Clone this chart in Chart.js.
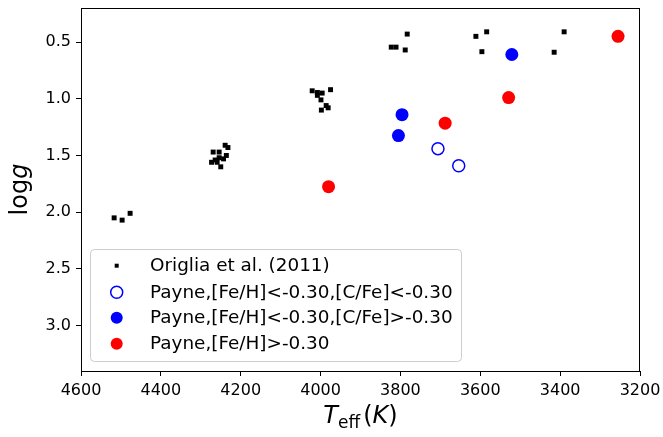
<!DOCTYPE html>
<html>
<head>
<meta charset="utf-8">
<script src="https://cdn.jsdelivr.net/npm/chart.js@4/dist/chart.umd.min.js"></script>
<style>
  html, body { margin: 0; padding: 0; background: #fff; }
  #wrap { width: 663px; height: 437px; }
</style>
</head>
<body>
<div id="wrap"><canvas id="myChart" width="663" height="437"></canvas></div>
<script>
// values
const origliaTeff = [4517, 4497, 4477,
    4269, 4254, 4239, 4232, 4236, 4243, 4254, 4264, 4273, 4259, 4250,
    4021, 4008, 3996, 3975, 4008, 3999, 3986, 3981, 3998,
    3823, 3811, 3788, 3783,
    3611, 3584, 3596, 3415, 3390];
const origliaLogg = [2.05, 2.07, 2.01,
    1.47, 1.47, 1.41, 1.43, 1.50, 1.53, 1.52, 1.54, 1.56, 1.56, 1.60,
    0.93, 0.945, 0.95, 0.92, 0.97, 1.01, 1.06, 1.08, 1.10,
    0.545, 0.545, 0.57, 0.43,
    0.45, 0.41, 0.585, 0.59, 0.41];

const lowCTeff = [3706, 3654];
const lowCLogg = [1.44, 1.59];

const highCTeff = [3521, 3796, 3805];
const highCLogg = [0.61, 1.14, 1.325];

const metalRichTeff = [3255, 3529, 3688, 3980];
const metalRichLogg = [0.45, 0.99, 1.215, 1.775];

const xTicks = [4600, 4400, 4200, 4000, 3800, 3600, 3400, 3200];
const yTicks = [0.5, 1.0, 1.5, 2.0, 2.5, 3.0];

const labels = ['Origlia et al. (2011)',
    'Payne,[Fe/H]<-0.30,[C/Fe]<-0.30',
    'Payne,[Fe/H]<-0.30,[C/Fe]>-0.30',
    'Payne,[Fe/H]>-0.30'];

function pts(xs, ys) {
    return xs.map((x, i) => ({ x: x, y: ys[i] }));
}

const FONT = '"DejaVu Sans", sans-serif';

// frame, axis titles and matplotlib-like legend
const mplExtras = {
    id: 'mplExtras',
    afterDraw: (chart) => {
        const { ctx, chartArea } = chart;
        ctx.save();
        ctx.strokeStyle = '#000';
        ctx.lineWidth = 1;
        ctx.strokeRect(chartArea.left + 0.5, chartArea.top + 0.5,
            chartArea.right - chartArea.left - 1, chartArea.bottom - chartArea.top);

        // x title: T_eff (K)
        ctx.fillStyle = '#000';
        ctx.textBaseline = 'alphabetic';
        const cx = (chartArea.left + chartArea.right) / 2;
        const by = 423;
        const big = 24, small = 17;
        ctx.font = 'italic ' + big + 'px ' + FONT;
        const wT = ctx.measureText('T').width;
        ctx.font = small + 'px ' + FONT;
        const wSub = ctx.measureText('eff').width;
        ctx.font = big + 'px ' + FONT;
        const wPo = ctx.measureText('(').width + 3;
        const wPc = ctx.measureText(')').width;
        ctx.font = 'italic ' + big + 'px ' + FONT;
        const wK = ctx.measureText('K').width;
        let x0 = cx - (wT + wSub + wPo + wK + wPc) / 2;
        ctx.textAlign = 'left';
        ctx.font = 'italic ' + big + 'px ' + FONT;
        ctx.fillText('T', x0, by); x0 += wT;
        ctx.font = small + 'px ' + FONT;
        ctx.fillText('eff', x0, by + 5); x0 += wSub + 3;
        ctx.font = big + 'px ' + FONT;
        ctx.fillText('(', x0, by); x0 += wPo - 3;
        ctx.font = 'italic ' + big + 'px ' + FONT;
        ctx.fillText('K', x0, by); x0 += wK;
        ctx.font = big + 'px ' + FONT;
        ctx.fillText(')', x0, by);

        // y title: logg
        ctx.save();
        ctx.translate(27, (chartArea.top + chartArea.bottom) / 2);
        ctx.rotate(-Math.PI / 2);
        ctx.font = big + 'px ' + FONT;
        const wl = ctx.measureText('log').width;
        ctx.font = 'italic ' + big + 'px ' + FONT;
        const wg = ctx.measureText('g').width;
        let yx = -(wl + wg) / 2;
        ctx.font = big + 'px ' + FONT;
        ctx.fillText('log', yx, 0);
        ctx.font = 'italic ' + big + 'px ' + FONT;
        ctx.fillText('g', yx + wl, 0);
        ctx.restore();

        // legend
        const lx = 90.5, ly = 249.5, lw = 371, lh = 112, r = 4;
        ctx.beginPath();
        ctx.moveTo(lx + r, ly);
        ctx.arcTo(lx + lw, ly, lx + lw, ly + lh, r);
        ctx.arcTo(lx + lw, ly + lh, lx, ly + lh, r);
        ctx.arcTo(lx, ly + lh, lx, ly, r);
        ctx.arcTo(lx, ly, lx + lw, ly, r);
        ctx.closePath();
        ctx.fillStyle = 'rgba(255,255,255,0.8)';
        ctx.fill();
        ctx.strokeStyle = '#cccccc';
        ctx.lineWidth = 1;
        ctx.stroke();

        const rows = [265.7, 292.3, 317.7, 343.7];
        const mx = 116.7;
        ctx.font = '18.4px ' + FONT;
        ctx.textAlign = 'left';
        ctx.textBaseline = 'middle';
        chart.data.datasets.forEach((ds, i) => {
            const y = rows[i];
            if (i === 0) {
                ctx.fillStyle = '#000';
                ctx.fillRect(mx - 2, y - 2, 4, 4);
            } else {
                ctx.beginPath();
                ctx.arc(mx, y, 6, 0, Math.PI * 2);
                if (i === 1) {
                    ctx.fillStyle = '#fff';
                    ctx.fill();
                    ctx.strokeStyle = ds.borderColor;
                    ctx.lineWidth = 1.5;
                    ctx.stroke();
                } else {
                    ctx.fillStyle = ds.backgroundColor;
                    ctx.fill();
                }
            }
            ctx.fillStyle = '#000';
            ctx.fillText(ds.label, 150, y + 1);
        });
        ctx.restore();
    }
};

const ctx = document.getElementById('myChart');

new Chart(ctx, {
    type: 'scatter',
    data: {
        datasets: [{
            label: labels[0],
            data: pts(origliaTeff, origliaLogg),
            pointStyle: 'rect',
            pointRadius: 3.5,
            borderWidth: 0,
            backgroundColor: '#000',
            borderColor: '#000'
        }, {
            label: labels[1],
            data: pts(lowCTeff, lowCLogg),
            pointStyle: 'circle',
            pointRadius: 6,
            borderWidth: 1.5,
            backgroundColor: 'rgba(255,255,255,0)',
            borderColor: '#0000ff'
        }, {
            label: labels[2],
            data: pts(highCTeff, highCLogg),
            pointStyle: 'circle',
            pointRadius: 6.5,
            borderWidth: 0,
            backgroundColor: '#0000ff',
            borderColor: '#0000ff'
        }, {
            label: labels[3],
            data: pts(metalRichTeff, metalRichLogg),
            pointStyle: 'circle',
            pointRadius: 6.5,
            borderWidth: 0,
            backgroundColor: '#ff0000',
            borderColor: '#ff0000'
        }]
    },
    options: {
        responsive: false,
        animation: false,
        layout: { padding: { top: 8, right: 23, left: 0, bottom: 0 } },
        plugins: {
            legend: { display: false },
            tooltip: { enabled: false }
        },
        scales: {
            x: {
                type: 'linear',
                reverse: true,
                min: 3200,
                max: 4600,
                afterBuildTicks: (scale) => { scale.ticks = xTicks.map(v => ({ value: v })); },
                afterFit: (scale) => { scale.height = 66; scale.paddingLeft = 0; scale.paddingRight = 0; },
                grid: { drawOnChartArea: false, drawTicks: true, tickLength: 5, color: '#000', lineWidth: 1 },
                border: { display: true, color: '#000', width: 1 },
                ticks: { color: '#000', font: { family: FONT, size: 16 }, padding: 5, maxRotation: 0,
                    callback: (v) => String(v) }
            },
            y: {
                type: 'linear',
                reverse: true,
                min: 0.2,
                max: 3.4,
                afterBuildTicks: (scale) => { scale.ticks = yTicks.map(v => ({ value: v })); },
                afterFit: (scale) => { scale.width = 81; scale.paddingTop = 0; scale.paddingBottom = 0; },
                grid: { drawOnChartArea: false, drawTicks: true, tickLength: 5, color: '#000', lineWidth: 1 },
                border: { display: true, color: '#000', width: 1 },
                ticks: { color: '#000', font: { family: FONT, size: 16 }, padding: 5,
                    callback: (v) => Number(v).toFixed(1) }
            }
        }
    },
    plugins: [mplExtras]
});
</script>
</body>
</html>
